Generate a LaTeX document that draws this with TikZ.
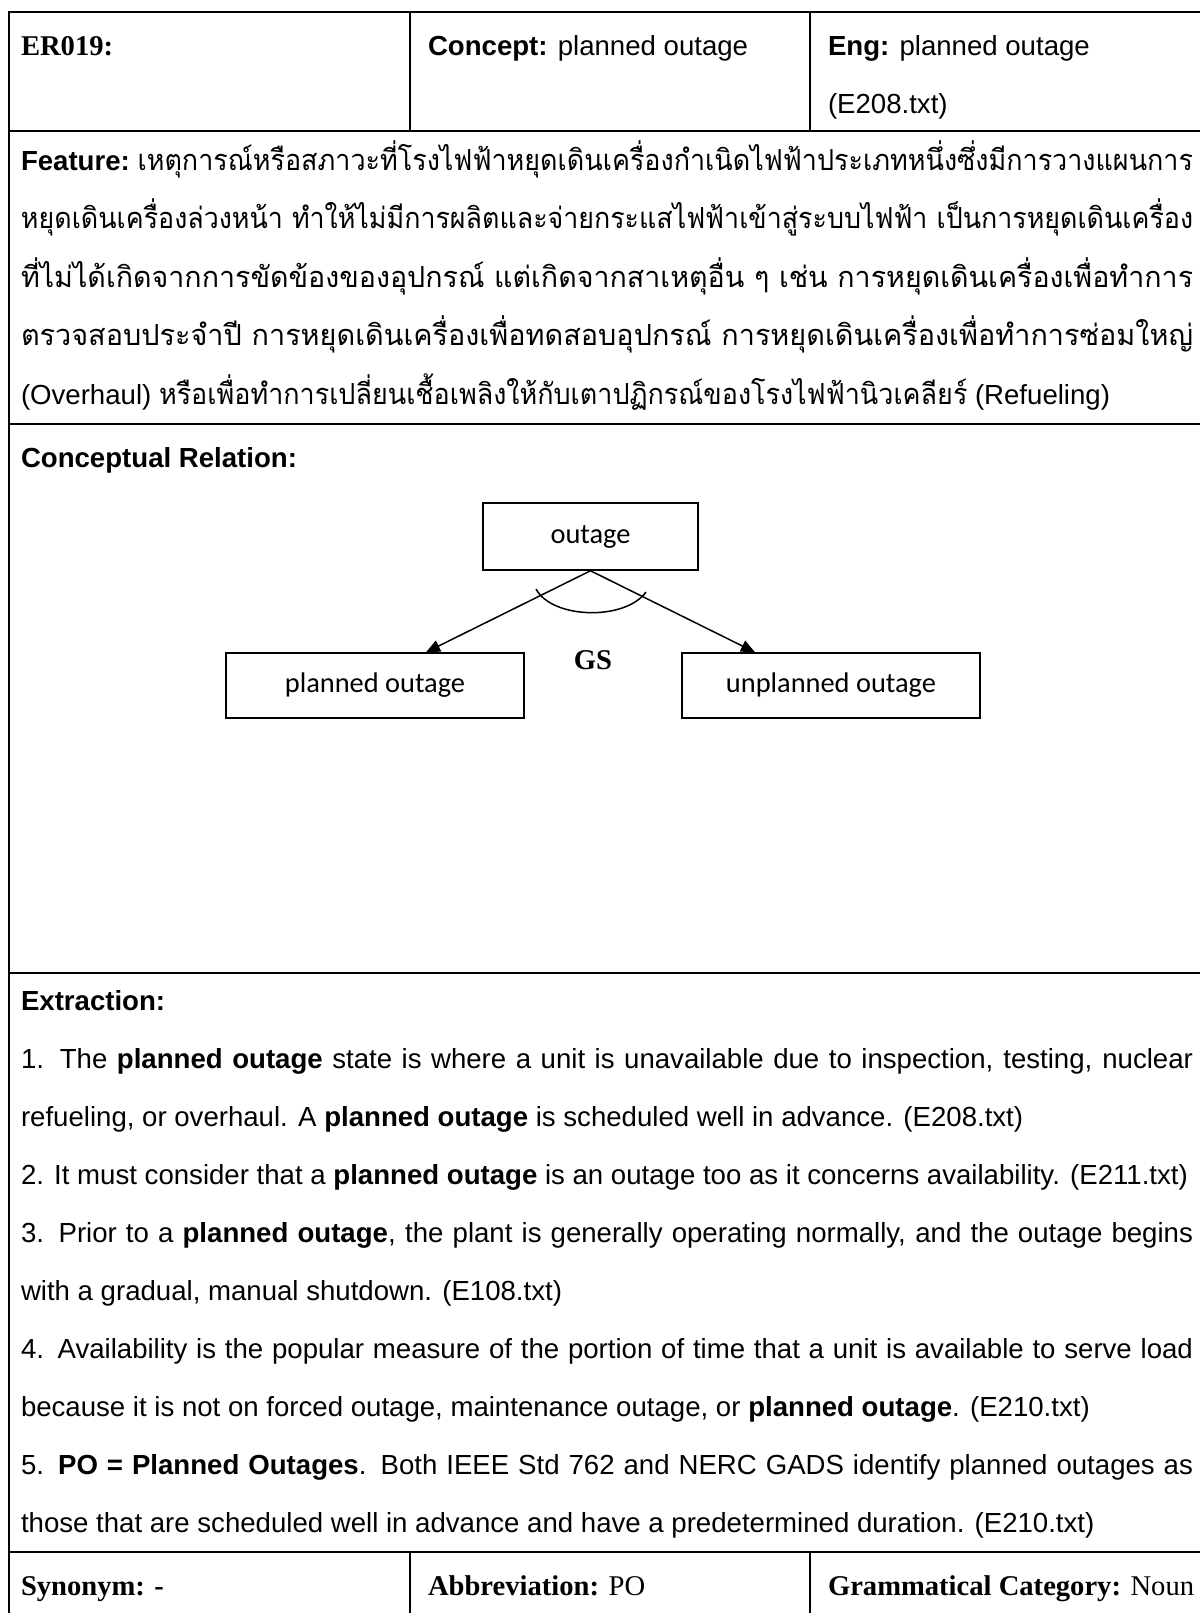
\documentclass[tikz,border=0pt]{standalone}
\usepackage{fontspec}
\usepackage{graphicx}
\setmainfont{Liberation Sans}
\newfontfamily\thaifont[Script=Thai]{Loma}
\newfontfamily\serifb{Liberation Serif}
\newfontfamily\boxfont{Carlito}
\usetikzlibrary{arrows.meta}
\newcommand\bodysz{\fontsize{13.8}{16}\selectfont}
\newcommand\thaisz{\fontsize{14.5}{17}\selectfont}
\newcommand\tnrsz{\fontsize{14.3}{16}\selectfont}
\newcommand\thai[1]{{\thaifont\thaisz #1}}
\newcommand\fullline[1]{\makebox[586pt][s]{#1}}
% a line of Thai text stretched to a given width, with Latin text before and after it
\newlength\fitw
\newcommand\fitline[4]{\settowidth\fitw{#2#4}\setlength\fitw{\dimexpr#1-\fitw\relax}#2\resizebox{\fitw}{\height}{\thai{#3}}#4}
\begin{document}
\begin{tikzpicture}[x=0.5pt,y=-0.5pt,
  rule/.style={line width=1.1pt},
  txt/.style={anchor=base west,inner sep=0pt,outer sep=0pt,font=\bodysz},
  tnr/.style={anchor=base west,inner sep=0pt,outer sep=0pt,font=\serifb\tnrsz},
  cbox/.style={draw,line width=0.75pt,inner sep=0pt,font=\boxfont\fontsize{14.2}{17}\selectfont},
  conn/.style={line width=0.75pt,-{Triangle[length=7pt,width=6pt]}}]
\useasboundingbox (0,0) rectangle (1200,1613);
\clip (0,0) rectangle (1200,1613);
\fill[white] (0,0) rectangle (1200,1613);

% table rules
\draw[rule] (1210,12) -- (9,12) -- (9,1620);
\draw[rule] (9,131) -- (1210,131);
\draw[rule] (9,424) -- (1210,424);
\draw[rule] (9,973) -- (1210,973);
\draw[rule] (9,1552) -- (1210,1552);
\draw[rule] (410,12) -- (410,131);
\draw[rule] (810,12) -- (810,131);
\draw[rule] (410,1552) -- (410,1620);
\draw[rule] (810,1552) -- (810,1620);

% header row
\node[tnr] (id) at (21,55) {\bfseries ER019:};
\node[txt] (concept) at (428,55) {\textbf{Concept:} planned outage};
\node[txt] (eng) at (828,55) {\textbf{Eng:} planned outage};
\node[txt] (engsrc) at (828,113) {(E208.txt)};

% feature row
\node[txt] (f1) at (21,170) {\fitline{586pt}{\textbf{Feature:}\ }{เหตุการณ์หรือสภาวะที่โรงไฟฟ้าหยุดเดินเครื่องกำเนิดไฟฟ้าประเภทหนึ่งซึ่งมีการวางแผนการ}{}};
\node[txt] (f2) at (21,228.5) {\fitline{586pt}{}{หยุดเดินเครื่องล่วงหน้า ทำให้ไม่มีการผลิตและจ่ายกระแสไฟฟ้าเข้าสู่ระบบไฟฟ้า เป็นการหยุดเดินเครื่อง}{}};
\node[txt] (f3) at (21,287) {\fitline{586pt}{}{ที่ไม่ได้เกิดจากการขัดข้องของอุปกรณ์ แต่เกิดจากสาเหตุอื่น ๆ เช่น การหยุดเดินเครื่องเพื่อทำการ}{}};
\node[txt] (f4) at (21,345.5) {\fitline{586pt}{}{ตรวจสอบประจำปี การหยุดเดินเครื่องเพื่อทดสอบอุปกรณ์ การหยุดเดินเครื่องเพื่อทำการซ่อมใหญ่}{}};
\node[txt] (f5) at (21,404) {\fitline{544.5pt}{(Overhaul)\ }{หรือเพื่อทำการเปลี่ยนเชื้อเพลิงให้กับเตาปฏิกรณ์ของโรงไฟฟ้านิวเคลียร์}{\ (Refueling)}};

% conceptual relation row
\node[txt] (crel) at (21,467) {\textbf{Conceptual Relation:}};
\node[cbox,minimum width=107.5pt,minimum height=33.5pt] (outage) at (590.5,536.5) {outage};
\node[cbox,minimum width=149pt,minimum height=32.5pt] (planned) at (375,685.5) {planned outage};
\node[cbox,minimum width=149pt,minimum height=32.5pt] (unplanned) at (831,685.5) {unplanned outage};
\draw[conn] (outage.south) -- ([xshift=25.5pt]planned.north);
\draw[conn] (outage.south) -- ([xshift=-38pt]unplanned.north);
\draw[line width=0.75pt] (536,589) .. controls (552,619) and (625,621) .. (646,592);
\node[tnr,anchor=center] (gs) at (593,660) {\bfseries GS};

% extraction row
\node[txt] (ext) at (21,1010) {\textbf{Extraction:}};
\node[txt] (e1) at (21,1068.1) {\fullline{1. The \textbf{planned outage} state is where a unit is unavailable due to inspection, testing, nuclear}};
\node[txt] (e2) at (21,1126.2) {refueling, or overhaul. A \textbf{planned outage} is scheduled well in advance. (E208.txt)};
\node[txt] (e3) at (21,1184.3) {2. It must consider that a \textbf{planned outage} is an outage too as it concerns availability. (E211.txt)};
\node[txt] (e4) at (21,1242.4) {\fullline{3. Prior to a \textbf{planned outage}, the plant is generally operating normally, and the outage begins}};
\node[txt] (e5) at (21,1300.5) {with a gradual, manual shutdown. (E108.txt)};
\node[txt] (e6) at (21,1358.6) {\fullline{4. Availability is the popular measure of the portion of time that a unit is available to serve load}};
\node[txt] (e7) at (21,1416.7) {because it is not on forced outage, maintenance outage, or \textbf{planned outage}. (E210.txt)};
\node[txt] (e8) at (21,1474.8) {\fullline{5. \textbf{PO = Planned Outages}. Both IEEE Std 762 and NERC GADS identify planned outages as}};
\node[txt] (e9) at (21,1532.9) {those that are scheduled well in advance and have a predetermined duration. (E210.txt)};

% bottom row
\node[tnr] (syn) at (21,1595) {\bfseries Synonym: -};
\node[tnr] (abbr) at (428,1595) {\textbf{Abbreviation:} PO};
\node[tnr] (gram) at (828,1595) {\textbf{Grammatical Category:} Noun};
\end{tikzpicture}
\end{document}
